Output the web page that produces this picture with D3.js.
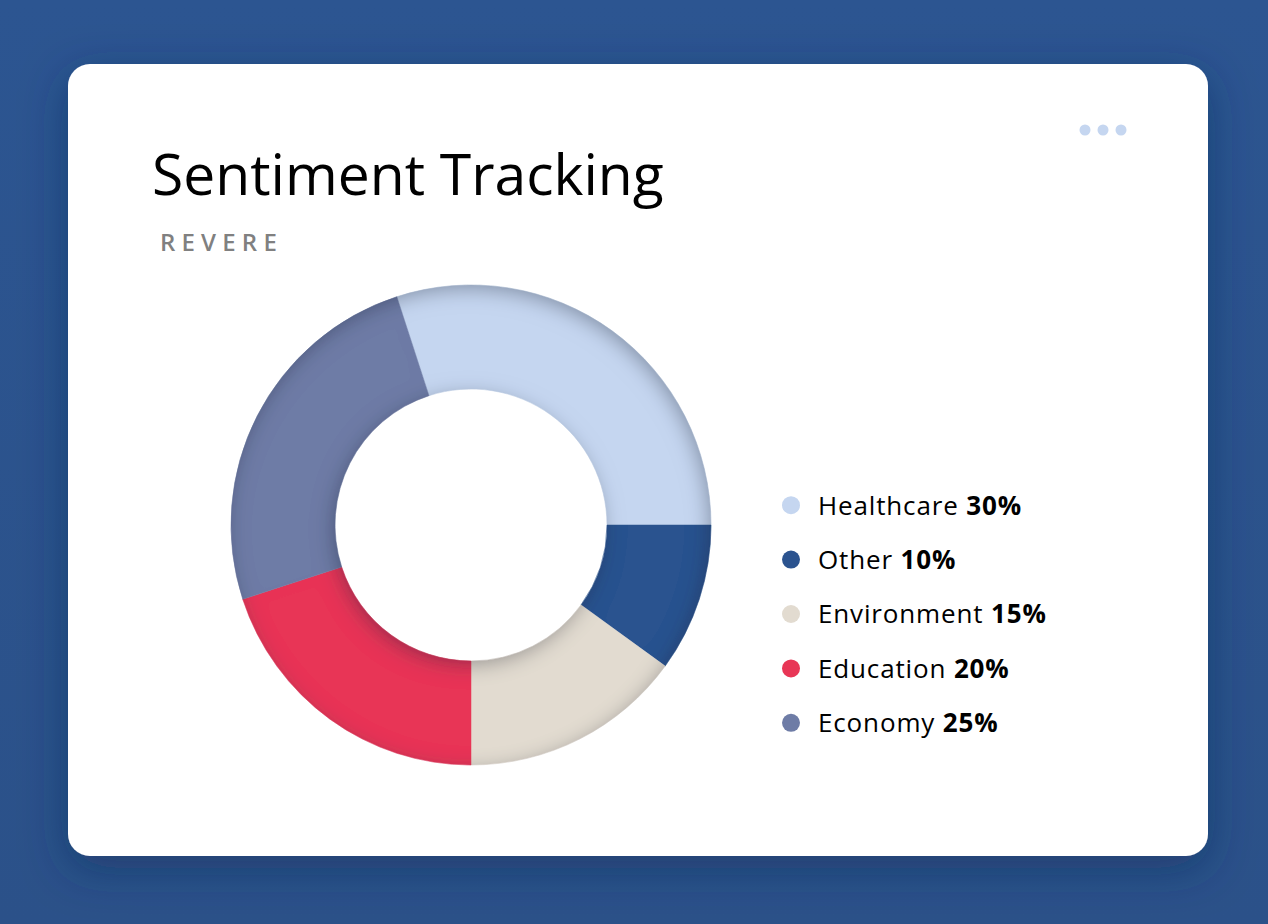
<!DOCTYPE html>
<html>
<head>
<meta charset="utf-8">
<script src="https://d3js.org/d3.v7.min.js"></script>
<style>
	html, body { margin: 0; padding: 0; }
	body { width: 1268px; height: 924px; overflow: hidden; }
	text { font-family: "Open Sans", "Noto Sans", sans-serif; }
</style>
</head>
<body>
<svg width="1268" height="924"></svg>
<script>
var categories = ["Healthcare", "Other", "Environment", "Education", "Economy"];
var values = [30, 10, 15, 20, 25];
var colors = ["#c5d6f0", "#2b538f", "#e2dbd0", "#e83656", "#6e7ca6"];
var title = "Sentiment Tracking";
var subtitle = "REVERE";

var svg = d3.select("svg"),
	width = +svg.attr("width"),
	height = +svg.attr("height");

var defs = svg.append("defs");

var bg = defs.append("linearGradient").attr("id", "bg")
	.attr("x1", "0").attr("y1", "0").attr("x2", "0").attr("y2", "1");
bg.append("stop").attr("offset", "0%").attr("stop-color", "#2c5591");
bg.append("stop").attr("offset", "100%").attr("stop-color", "#2b5189");

// soft shadow under the card
var cardShadow = defs.append("filter").attr("id", "cardShadow")
	.attr("x", "-10%").attr("y", "-10%").attr("width", "120%").attr("height", "130%");
cardShadow.append("feDropShadow")
	.attr("dx", 0).attr("dy", 12).attr("stdDeviation", 22)
	.attr("flood-color", "#16305c").attr("flood-opacity", 0.55);

// inner shadow on the donut ring
var inset = defs.append("filter").attr("id", "inset")
	.attr("x", "-10%").attr("y", "-10%").attr("width", "120%").attr("height", "120%");
inset.append("feComponentTransfer").attr("in", "SourceAlpha").attr("result", "inv")
	.append("feFuncA").attr("type", "table").attr("tableValues", "1 0");
inset.append("feOffset").attr("in", "inv").attr("dx", -3).attr("dy", 5).attr("result", "off");
inset.append("feGaussianBlur").attr("in", "off").attr("stdDeviation", 10).attr("result", "blur");
inset.append("feFlood").attr("flood-color", "#1c2b48").attr("flood-opacity", 0.6).attr("result", "col");
inset.append("feComposite").attr("in", "col").attr("in2", "blur").attr("operator", "in").attr("result", "sh");
inset.append("feComposite").attr("in", "sh").attr("in2", "SourceAlpha").attr("operator", "in").attr("result", "shin");
var merge = inset.append("feMerge");
merge.append("feMergeNode").attr("in", "SourceGraphic");
merge.append("feMergeNode").attr("in", "shin");

svg.append("rect").attr("width", width).attr("height", height).attr("fill", "url(#bg)");

svg.append("rect")
	.attr("x", 68).attr("y", 64)
	.attr("width", 1140).attr("height", 792)
	.attr("rx", 22).attr("ry", 22)
	.attr("fill", "#fff")
	.attr("filter", "url(#cardShadow)");

// menu dots
svg.selectAll(".dot")
	.data([0, 1, 2])
	.enter().append("circle")
	.attr("class", "dot")
	.attr("cx", function(d) { return 1085 + d * 18; })
	.attr("cy", 130)
	.attr("r", 5.5)
	.attr("fill", "#c5d6f0");

svg.append("text")
	.attr("x", 152).attr("y", 195)
	.attr("font-size", 57)
	.attr("fill", "#000")
	.text(title);

svg.append("text")
	.attr("x", 160).attr("y", 251)
	.attr("font-size", 24)
	.attr("font-weight", 600)
	.attr("letter-spacing", 6.2)
	.attr("fill", "#808080")
	.text(subtitle);

// donut
var pie = d3.pie()
	.sort(null)
	.startAngle(-0.1 * Math.PI)
	.endAngle(1.9 * Math.PI)
	.value(function(d) { return d; });

var arc = d3.arc().innerRadius(136).outerRadius(240);

var g = svg.append("g")
	.attr("transform", "translate(471,525)")
	.attr("filter", "url(#inset)");

g.selectAll(".slice")
	.data(pie(values))
	.enter().append("path")
	.attr("class", "slice")
	.attr("d", arc)
	.attr("fill", function(d, i) { return colors[i]; })
	.attr("stroke", function(d, i) { return colors[i]; })
	.attr("stroke-width", 0.5);

// legend
var y = d3.scaleBand().domain(categories).range([478, 750]);

var item = svg.selectAll(".legend")
	.data(categories)
	.enter().append("g")
	.attr("class", "legend")
	.attr("transform", function(d) { return "translate(791," + (y(d) + y.bandwidth() / 2) + ")"; });

item.append("circle")
	.attr("r", 9)
	.attr("fill", function(d, i) { return colors[i]; });

var label = item.append("text")
	.attr("x", 27)
	.attr("dy", "0.36em")
	.attr("font-size", 26)
	.attr("letter-spacing", 0.85)
	.attr("fill", "#000");
label.append("tspan").text(function(d) { return d + " "; });
label.append("tspan").attr("font-weight", 700).text(function(d, i) { return values[i] + "%"; });
</script>
</body>
</html>
